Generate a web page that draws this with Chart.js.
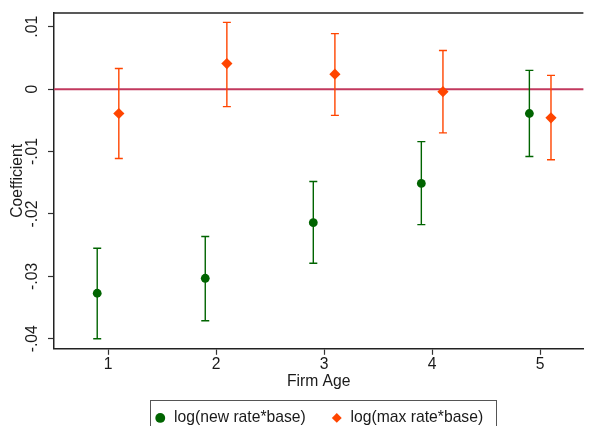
<!DOCTYPE html>
<html><head><meta charset="utf-8">
<script src="https://cdn.jsdelivr.net/npm/chart.js@4"></script>
<style>html,body{margin:0;padding:0;background:#fff;overflow:hidden}#wrap{width:589px;height:426px;position:relative}</style>
</head><body><div id="wrap"><canvas id="c"></canvas></div>
<script>
const categories = [1, 2, 3, 4, 5];
const xTickLabels = ['1', '2', '3', '4', '5'];
const yTicks = [0.01, 0, -0.01, -0.02, -0.03, -0.04];
const yTickLabels = ['.01', '0', '-.01', '-.02', '-.03', '-.04'];
const seriesNames = ['log(new rate*base)', 'log(max rate*base)'];
const newRateCoef = [-0.0327, -0.0303, -0.0214, -0.0151, -0.0039];
const newRateLo   = [-0.0400, -0.0371, -0.0279, -0.0217, -0.0108];
const newRateHi   = [-0.0255, -0.0236, -0.0148, -0.0084,  0.0030];
const maxRateCoef = [-0.0039,  0.0041,  0.0024, -0.0004, -0.0046];
const maxRateLo   = [-0.0111, -0.0028, -0.0042, -0.0070, -0.0113];
const maxRateHi   = [ 0.0033,  0.0107,  0.0089,  0.0062,  0.0022];
const refLineValue = 0;
const dodge = 0.1;

const FONT = {family: '"Liberation Sans", Arial, Helvetica, sans-serif', size: 15.7};
const TXT = '#1a1a1a';

function pts(coef, lo, hi, shift) {
  return categories.map((c, i) => ({x: c + shift, y: coef[i], lo: lo[i], hi: hi[i]}));
}

const extras = {
  id: 'extras',
  afterLayout(chart) {
    const lg = chart.legend;
    const h = lg.height;
    lg.top -= 13.75;
    lg.bottom = lg.top + h;
  },
  beforeDatasetsDraw(chart) {
    const {ctx, chartArea: a, scales: {x, y}} = chart;
    ctx.save();
    ctx.strokeStyle = '#222'; ctx.lineWidth = 1.5;
    ctx.beginPath(); ctx.moveTo(a.left - 0.75, a.top); ctx.lineTo(a.right, a.top); ctx.stroke();
    const y0 = y.getPixelForValue(refLineValue);
    ctx.strokeStyle = '#c2385e'; ctx.lineWidth = 2;
    ctx.beginPath(); ctx.moveTo(a.left, y0); ctx.lineTo(a.right, y0); ctx.stroke();
    chart.data.datasets.forEach(ds => {
      ctx.strokeStyle = ds.barColor; ctx.lineWidth = 1.4;
      ds.data.forEach(p => {
        const px = x.getPixelForValue(p.x), lo = y.getPixelForValue(p.lo), hi = y.getPixelForValue(p.hi);
        ctx.beginPath();
        ctx.moveTo(px, lo); ctx.lineTo(px, hi);
        ctx.moveTo(px - 4, lo); ctx.lineTo(px + 4, lo);
        ctx.moveTo(px - 4, hi); ctx.lineTo(px + 4, hi);
        ctx.stroke();
      });
    });
    ctx.restore();
  },
  afterDraw(chart) {
    const hb = chart.legend.legendHitBoxes;
    if (!hb || !hb.length) return;
    const {ctx} = chart;
    const first = hb[0], last = hb[hb.length - 1];
    const cy = first.top + first.height / 2;
    const l = first.left - 4.5, r = last.left + last.width + 13, t = cy - 18;
    ctx.save();
    ctx.strokeStyle = '#555'; ctx.lineWidth = 1;
    ctx.strokeRect(Math.round(l) + 0.5, Math.round(t) + 0.5, Math.round(r - l), chart.height + 10);
    ctx.restore();
  }
};

new Chart(document.getElementById('c'), {
  type: 'scatter',
  data: {
    datasets: [
      {label: seriesNames[0], data: pts(newRateCoef, newRateLo, newRateHi, -dodge),
       backgroundColor: '#006400', borderWidth: 0, pointStyle: 'circle', pointRadius: 4.4, barColor: '#006400'},
      {label: seriesNames[1], data: pts(maxRateCoef, maxRateLo, maxRateHi, dodge),
       backgroundColor: '#ff4500', borderWidth: 0, pointStyle: 'rectRot', pointRadius: 5.6, barColor: '#ff4500'}
    ]
  },
  options: {
    responsive: true, maintainAspectRatio: false, animation: false,
    layout: {padding: {top: 13, right: 0, left: 0, bottom: -23.5}},
    plugins: {
      legend: {position: 'bottom', fullSize: false,
        labels: {usePointStyle: true, boxWidth: 12, boxHeight: 7, padding: 25, font: FONT, color: TXT}},
      tooltip: {enabled: false}
    },
    scales: {
      x: {type: 'linear', min: 0.5, max: 5.4,
        afterBuildTicks: s => { s.ticks = categories.map(v => ({value: v})); },
        afterFit: s => { s.height = 50; },
        ticks: {callback: v => xTickLabels[categories.indexOf(v)], padding: 0, font: FONT, color: TXT, maxRotation: 0, autoSkip: false},
        grid: {drawOnChartArea: false, drawTicks: true, tickLength: 6, color: '#333', tickWidth: 1.2},
        border: {color: '#222', width: 1.5},
        title: {display: true, text: 'Firm Age', font: FONT, color: TXT, padding: {top: 0, bottom: 8}}
      },
      y: {type: 'linear', min: -0.0416, max: 0.0122,
        afterBuildTicks: s => { s.ticks = yTicks.map(v => ({value: v})); },
        afterFit: s => { s.width = 54; },
        ticks: {callback: v => yTickLabels[yTicks.indexOf(v)], minRotation: 90, maxRotation: 90, crossAlign: 'center', padding: 1.5, font: FONT, color: TXT, autoSkip: false},
        grid: {drawOnChartArea: false, drawTicks: true, tickLength: 6, color: '#333', tickWidth: 1.2},
        border: {color: '#222', width: 1.5},
        title: {display: true, text: 'Coefficient', font: FONT, color: TXT, padding: {top: 8, bottom: 0}}
      }
    }
  },
  plugins: [extras]
});
</script></body></html>
